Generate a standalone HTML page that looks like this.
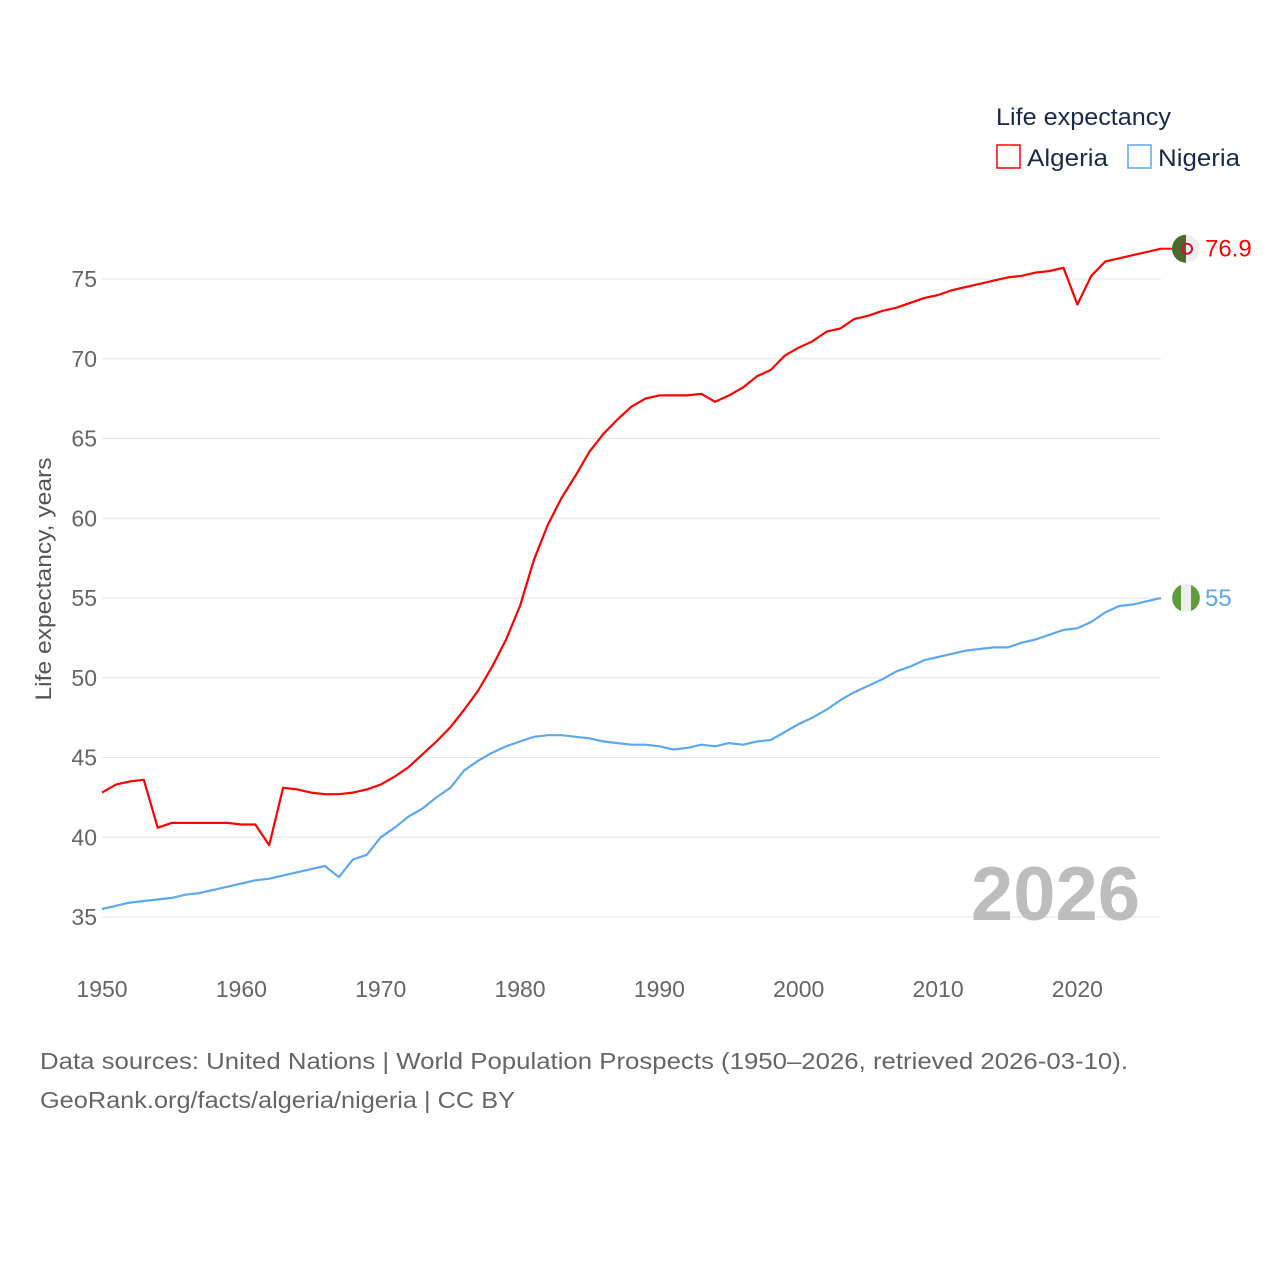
<!DOCTYPE html>
<html><head><meta charset="utf-8"><style>
html,body{margin:0;padding:0;background:#fff;}
body{width:1280px;height:1280px;overflow:hidden;font-family:"Liberation Sans",sans-serif;}
</style></head><body>
<svg id="chart" width="1280" height="1280" xmlns="http://www.w3.org/2000/svg" font-family="Liberation Sans, sans-serif">
<g id="grid"></g>
<g id="yticks"></g>
<g id="xticks"></g>
<text transform="translate(51,579) rotate(-90)" text-anchor="middle" font-size="22" fill="#555" textLength="243" lengthAdjust="spacingAndGlyphs">Life expectancy, years</text>
<text x="1140" y="920" text-anchor="end" font-size="76" font-weight="bold" fill="#bdbdbd">2026</text>
<g>
<text x="996" y="125" font-size="24" fill="#1a2a4a" textLength="175" lengthAdjust="spacingAndGlyphs">Life expectancy</text>
<g><rect x="997" y="145" width="23" height="23" fill="none" stroke="#ff0000" stroke-width="1.5"/><text x="1027" y="166" font-size="24" fill="#1a2a4a" textLength="81" lengthAdjust="spacingAndGlyphs">Algeria</text></g>
<g><rect x="1128" y="145" width="23" height="23" fill="none" stroke="#5ea8ef" stroke-width="1.5"/><text x="1158" y="166" font-size="24" fill="#1a2a4a" textLength="82" lengthAdjust="spacingAndGlyphs">Nigeria</text></g>
</g>
<g id="series"></g>
<text x="40" y="1069" font-size="23" fill="#666" textLength="1088" lengthAdjust="spacingAndGlyphs">Data sources: United Nations | World Population Prospects (1950–2026, retrieved 2026-03-10).</text>
<text x="40" y="1108" font-size="23" fill="#666" textLength="475" lengthAdjust="spacingAndGlyphs">GeoRank.org/facts/algeria/nigeria | CC BY</text>
</svg>
<script>
const years = [];
for (let y = 1950; y <= 2026; y++) years.push(y);
const algeria = [42.8,43.3,43.5,43.6,40.6,40.9,40.9,40.9,40.9,40.9,40.8,40.8,39.5,43.1,43.0,42.8,42.7,42.7,42.8,43.0,43.3,43.8,44.4,45.2,46.0,46.9,48.0,49.2,50.7,52.4,54.5,57.4,59.6,61.3,62.7,64.2,65.3,66.2,67.0,67.5,67.7,67.7,67.7,67.8,67.3,67.7,68.2,68.9,69.3,70.2,70.7,71.1,71.7,71.9,72.5,72.7,73.0,73.2,73.5,73.8,74.0,74.3,74.5,74.7,74.9,75.1,75.2,75.4,75.5,75.7,73.4,75.2,76.1,76.3,76.5,76.7,76.9];
const nigeria = [35.5,35.7,35.9,36.0,36.1,36.2,36.4,36.5,36.7,36.9,37.1,37.3,37.4,37.6,37.8,38.0,38.2,37.5,38.6,38.9,40.0,40.6,41.3,41.8,42.5,43.1,44.2,44.8,45.3,45.7,46.0,46.3,46.4,46.4,46.3,46.2,46.0,45.9,45.8,45.8,45.7,45.5,45.6,45.8,45.7,45.9,45.8,46.0,46.1,46.6,47.1,47.5,48.0,48.6,49.1,49.5,49.9,50.4,50.7,51.1,51.3,51.5,51.7,51.8,51.9,51.9,52.2,52.4,52.7,53.0,53.1,53.5,54.1,54.5,54.6,54.8,55.0];
const yTicks = [35,40,45,50,55,60,65,70,75];
const xTicks = [1950,1960,1970,1980,1990,2000,2010,2020];
const endLabels = ["76.9","55"];

const NS = "http://www.w3.org/2000/svg";
const x = v => 102 + (v - 1950) * (1161 - 102) / 76;
const y = v => 917 - (v - 35) * (917 - 279) / 40;
function mk(tag, attrs, parent, txt) {
  const e = document.createElementNS(NS, tag);
  for (const k in attrs) e.setAttribute(k, attrs[k]);
  if (txt !== undefined) e.textContent = txt;
  parent.appendChild(e);
  return e;
}
const grid = document.getElementById('grid'), yt = document.getElementById('yticks'), xt = document.getElementById('xticks'), ser = document.getElementById('series');
yTicks.forEach(t => {
  const l = mk('line', {x1: 102, x2: 1161, y1: y(t), y2: y(t), stroke: '#e6e6e6', 'stroke-width': 1}, grid);
  
  
  const tx = mk('text', {x: 97, y: y(t) + 8, 'text-anchor': 'end', 'font-size': 23, fill: '#666'}, yt, String(t));
  
  
});
xTicks.forEach(t => {
  const tx = mk('text', {x: x(t), y: 997, 'text-anchor': 'middle', 'font-size': 23, fill: '#666'}, xt, String(t));
  
  
});
function line(vals, color, name) {
  const d = vals.map((v, i) => (i ? 'L' : 'M') + x(years[i]).toFixed(1) + ' ' + y(v).toFixed(1)).join(' ');
  const p = mk('path', {d: d, fill: 'none', stroke: color, 'stroke-width': 2.2, 'stroke-linejoin': 'round'}, ser);
  
  
}
line(nigeria, '#5ea8ef', 'nigeria-line');
line(algeria, '#ff0000', 'algeria-line');
const lastA = algeria[algeria.length - 1], lastN = nigeria[nigeria.length - 1];
const cx = 1186;
const ga = mk('g', {}, ser);


mk('line', {x1: x(2026), x2: cx - 14, y1: y(lastA), y2: y(lastA), stroke: '#ff0000', 'stroke-width': 2}, ga);
mk('circle', {cx: cx, cy: y(lastA), r: 14, fill: '#eeeeee'}, ga);
mk('path', {d: `M${cx} ${y(lastA)-14} A14 14 0 0 0 ${cx} ${y(lastA)+14} Z`, fill: '#4b6b2e'}, ga);
mk('circle', {cx: cx + 1, cy: y(lastA), r: 5, fill: 'none', stroke: '#d21034', 'stroke-width': 2}, ga);
const la = mk('text', {x: 1205, y: y(lastA) + 8, 'font-size': 24, fill: '#ff0000'}, ser, endLabels[0]);


const gn = mk('g', {}, ser);


mk('circle', {cx: cx, cy: y(lastN), r: 14, fill: '#eeeeee'}, gn);
mk('path', {d: `M${cx-5} ${y(lastN)-13} A14 14 0 0 0 ${cx-5} ${y(lastN)+13} Z`, fill: '#5e9e3a'}, gn);
mk('path', {d: `M${cx+5} ${y(lastN)-13} A14 14 0 0 1 ${cx+5} ${y(lastN)+13} Z`, fill: '#5e9e3a'}, gn);
const ln = mk('text', {x: 1205, y: y(lastN) + 8, 'font-size': 24, fill: '#5ea8ef'}, ser, endLabels[1]);


</script>
</body></html>
